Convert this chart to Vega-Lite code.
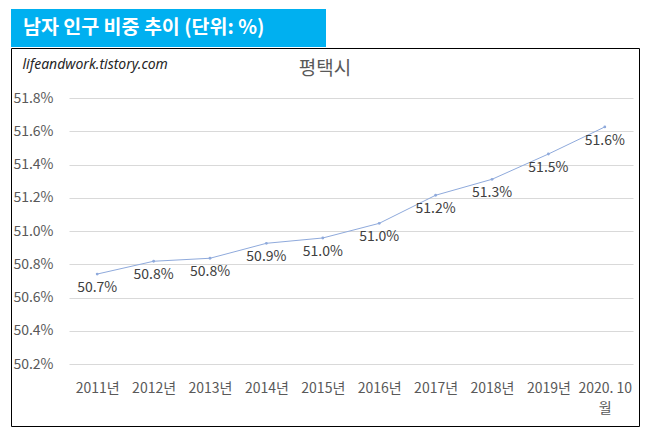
{
  "$schema": "https://vega.github.io/schema/vega-lite/v6.json",
  "background": "#ffffff",
  "padding": {"left": 10, "top": 9, "right": 0, "bottom": 0},
  "spacing": 0,
  "config": {
    "font": "Noto Sans CJK KR",
    "view": {"stroke": null}
  },
  "vconcat": [
    {
      "width": 315,
      "height": 38,
      "data": {"values": [{"banner": "남자 인구 비중 추이 (단위: %)", "pos": 0}]},
      "layer": [
        {
          "mark": {"type": "rect", "color": "#00b0f0"},
          "encoding": {}
        },
        {
          "mark": {"type": "text", "align": "left", "baseline": "middle", "dx": 12, "color": "#ffffff", "fontSize": 19.5, "fontWeight": "bold"},
          "encoding": {
            "x": {"field": "pos", "type": "quantitative", "scale": {"domain": [0, 1]}, "axis": null},
            "text": {"field": "banner"}
          }
        }
      ]
    },
    {
      "width": 628,
      "height": 378,
      "view": {"stroke": "#000000", "strokeWidth": 1, "fill": "#ffffff"},
      "data": {
        "values": [
          {"year": "2011년", "ratio": 0.50741},
          {"year": "2012년", "ratio": 0.50818},
          {"year": "2013년", "ratio": 0.50836},
          {"year": "2014년", "ratio": 0.50926},
          {"year": "2015년", "ratio": 0.50958},
          {"year": "2016년", "ratio": 0.51046},
          {"year": "2017년", "ratio": 0.51215},
          {"year": "2018년", "ratio": 0.51311},
          {"year": "2019년", "ratio": 0.51463},
          {"year": "2020. 10월", "ratio": 0.51626}
        ]
      },
      "encoding": {
        "y": {
          "field": "ratio",
          "type": "quantitative",
          "scale": {"domain": [0.502, 0.518], "range": [316, 50], "zero": false, "nice": false},
          "axis": {
            "title": "lifeandwork.tistory.com",
            "titleAngle": 0,
            "titleAlign": "left",
            "titleBaseline": "middle",
            "titleX": -34,
            "titleY": 16,
            "titleFontSize": 14,
            "titleFontStyle": "italic",
            "titleFontWeight": "normal",
            "titleColor": "#262626",
            "titleFont": "Noto Sans",
            "offset": -45,
            "values": [0.502, 0.504, 0.506, 0.508, 0.510, 0.512, 0.514, 0.516, 0.518],
            "format": ".1%",
            "domain": false,
            "ticks": false,
            "labelPadding": 3,
            "labelFontSize": 14,
            "labelColor": "#595959",
            "gridColor": "#d9d9d9",
            "gridWidth": 1
          }
        }
      },
      "layer": [
        {
          "mark": {
            "type": "line",
            "color": "#8faadc",
            "strokeWidth": 1,
            "point": {"filled": true, "size": 8, "color": "#8faadc"}
          },
          "encoding": {
            "x": {
              "field": "year",
              "type": "ordinal",
              "sort": null,
              "scale": {"type": "point", "range": [58, 622], "padding": 0.5},
              "axis": {
                "title": null,
                "orient": "bottom",
                "offset": -48,
                "domain": false,
                "ticks": false,
                "grid": false,
                "labelAngle": 0,
                "labelPadding": 3,
                "labelFontSize": 14,
                "labelColor": "#595959",
                "labelOverlap": false,
                "labelLineHeight": 20,
                "labelExpr": "datum.value == '2020. 10월' ? ['2020. 10', '월'] : datum.label"
              }
            }
          }
        },
        {
          "mark": {"type": "text", "dy": 14, "baseline": "middle", "fontSize": 14, "color": "#404040"},
          "encoding": {
            "x": {"field": "year", "type": "ordinal", "sort": null},
            "text": {"field": "ratio", "type": "quantitative", "format": ".1%"}
          }
        },
        {
          "data": {"values": [{"title": "평택시", "at": 0.519744}]},
          "mark": {"type": "text", "baseline": "middle", "fontSize": 19, "color": "#595959"},
          "encoding": {
            "y": {"field": "at", "type": "quantitative"},
            "text": {"field": "title"}
          }
        }
      ]
    }
  ]
}
